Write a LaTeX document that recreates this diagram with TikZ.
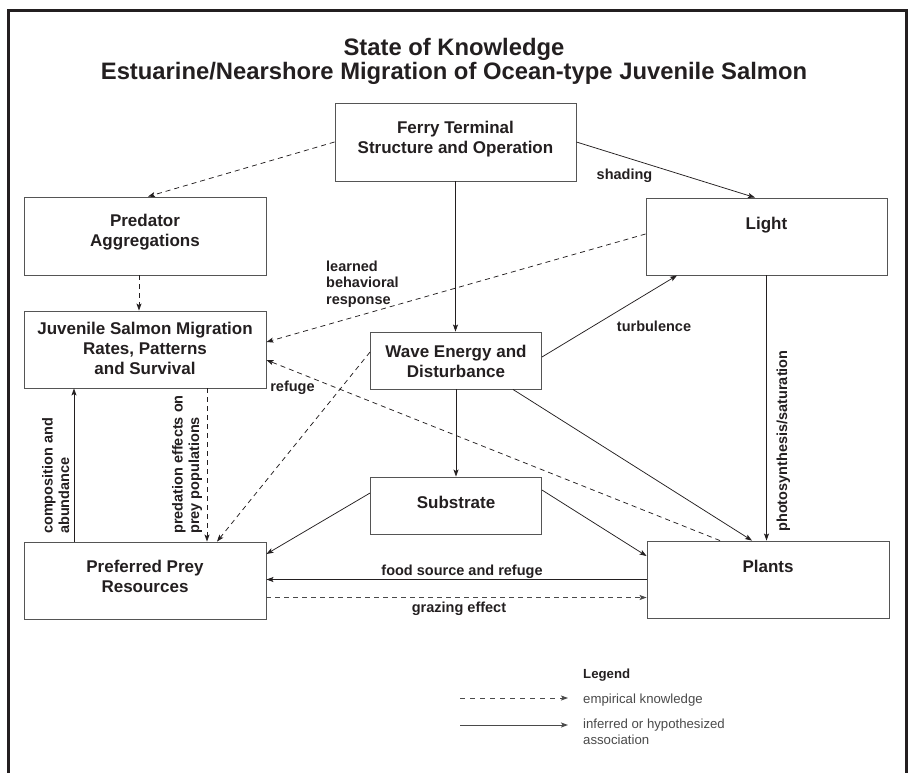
\documentclass[tikz,border=0pt]{standalone}
\usepackage{fontspec}
\setmainfont{Liberation Sans}
\usetikzlibrary{arrows.meta,positioning}
\definecolor{ink}{HTML}{231F20}
\definecolor{boxline}{HTML}{555555}
\definecolor{legendgray}{HTML}{4A4A4A}
\begin{document}
\begin{tikzpicture}[x=1pt,y=-1pt,
  box/.style args={#1x#2}{draw=boxline, line width=0.9pt, minimum width=#1pt, minimum height=#2pt, inner sep=0pt},
  boxtext/.style={font=\fontsize{17}{20}\selectfont\bfseries, align=center, inner sep=0pt, text=ink},
  lbl/.style={font=\fontsize{14.5}{16.5}\selectfont\bfseries, inner sep=0pt, text=ink},
  legtext/.style={font=\fontsize{13.2}{16}\selectfont, inner sep=0pt, text=legendgray, align=left},
  arrow/.style={-{Stealth[length=7pt,width=5pt,inset=1.5pt]}, line width=0.75pt, draw=ink},
  dasharrow/.style={arrow, dash pattern=on 5pt off 4pt}]
  \useasboundingbox (0,0) rectangle (909,772);
  \draw[line width=3pt, ink] (8,790) -- (8,10) -- (906,10) -- (906,790);
  \node[font=\fontsize{23.8}{24}\selectfont\bfseries, text=ink, anchor=base] (title1) at (454,55) {State of Knowledge};
  \node[font=\fontsize{23.8}{24}\selectfont\bfseries, text=ink, anchor=base] (title2) at (454,79) {Estuarine/Nearshore Migration of Ocean-type Juvenile Salmon};

  \node[box=241x78] (ferry) at (455.5,142) {};
  \node[box=242x78] (pred) at (145,236) {};
  \node[box=241x77] (light) at (766.5,236.5) {};
  \node[box=242x77] (juv) at (145,349.5) {};
  \node[box=171x57] (wave) at (456,360.5) {};
  \node[box=171x57] (sub) at (456,505.5) {};
  \node[box=242x77] (prey) at (145,580.5) {};
  \node[box=242x77] (plants) at (768,579.5) {};

  \node[boxtext, below=18pt of ferry.north] (ferrytxt) {Ferry Terminal\\Structure and Operation};
  \node[boxtext, below=17pt of pred.north] (predtxt) {Predator\\Aggregations};
  \node[boxtext, below=19pt of light.north] (lighttxt) {Light};
  \node[boxtext, below=11pt of juv.north] (juvtxt) {Juvenile Salmon Migration\\Rates, Patterns\\and Survival};
  \node[boxtext, below=13pt of wave.north] (wavetxt) {Wave Energy and\\Disturbance};
  \node[boxtext, below=19.5pt of sub.north] (subtxt) {Substrate};
  \node[boxtext, below=18pt of prey.north] (preytxt) {Preferred Prey\\Resources};
  \node[boxtext, below=19.5pt of plants.north] (plantstxt) {Plants};

  \draw[dasharrow] (ferry.west) -- ([xshift=3pt]pred.north);
  \draw[arrow] (ferry.east) -- ([xshift=-11.5pt]light.north);
  \node[lbl, anchor=base] (shading) at (624.5,179) {shading};
  \draw[arrow] (ferry.south) -- (ferry.south |- wave.north);
  \draw[dasharrow] ([xshift=-6pt]pred.south) -- ([xshift=-6pt]juv.north);
  \draw[dasharrow] ([yshift=2.5pt]light.west) -- ([yshift=7.5pt]juv.east);
  \node[lbl, align=left, anchor=north west] (learned) at (326,260.5) {learned\\behavioral\\response};
  \draw[arrow] ([yshift=3.5pt]wave.east) -- ([xshift=-89.5pt]light.south);
  \node[lbl, anchor=base] (turb) at (654,331) {turbulence};
  \draw[arrow] (light.south) -- (light.south |- plants.north);
  \node[lbl, rotate=90, anchor=base] (photo) at (787,441) {photosynthesis/saturation};
  \draw[arrow] (wave.south) -- (sub.north);
  \draw[dasharrow] ([yshift=8.5pt]wave.west) -- ([xshift=72pt]prey.north);
  \draw[dasharrow] ([xshift=-48pt]plants.north) -- ([yshift=-10.5pt]juv.east);
  \node[lbl, anchor=base] (refuge) at (292.5,391) {refuge};
  \draw[arrow] ([xshift=57pt]wave.south) -- ([xshift=-16pt]plants.north);
  \draw[arrow] ([yshift=12.5pt]sub.west) -- ([yshift=26.5pt]prey.east);
  \draw[arrow] ([yshift=15.5pt]sub.east) -- ([yshift=23.5pt]plants.west);
  \draw[arrow] (plants.west) -- (plants.west -| prey.east);
  \node[lbl, anchor=base] (food) at (462,575) {food source and refuge};
  \draw[dasharrow, draw=legendgray] ([yshift=-17pt]prey.east) -- ([yshift=-17pt]prey.east -| plants.west);
  \node[lbl, anchor=base] (grazing) at (459,612) {grazing effect};
  \draw[arrow] ([xshift=-71pt]prey.north) -- ([xshift=-71pt]juv.south);
  \node[lbl, rotate=90, align=left, anchor=north west] (compo) at (42,534) {composition and\\abundance};
  \draw[dasharrow] ([xshift=62pt]juv.south) -- ([xshift=62pt]prey.north);
  \node[lbl, rotate=90, align=left, anchor=north west] (predeff) at (172,534) {predation effects on\\prey populations};

  \node[legtext, font=\fontsize{13.2}{16}\selectfont\bfseries, text=ink, anchor=base west] (legend) at (583,678) {Legend};
  \coordinate (e1) at (460,698);
  \coordinate (e2) at (568,698);
  \coordinate (i1) at (460,725);
  \coordinate (i2) at (568,725);
  \draw[dasharrow, draw=legendgray, dash pattern=on 5pt off 5pt] (e1) -- (e2);
  \draw[arrow, draw=legendgray, line width=1pt] (i1) -- (i2);
  \node[legtext, anchor=base west] (emp) at (583,703) {empirical knowledge};
  \node[legtext, anchor=base west] (inf) at (583,728) {inferred or hypothesized};
  \node[legtext, anchor=base west] (assoc) at (583,744) {association};
\end{tikzpicture}
\end{document}
